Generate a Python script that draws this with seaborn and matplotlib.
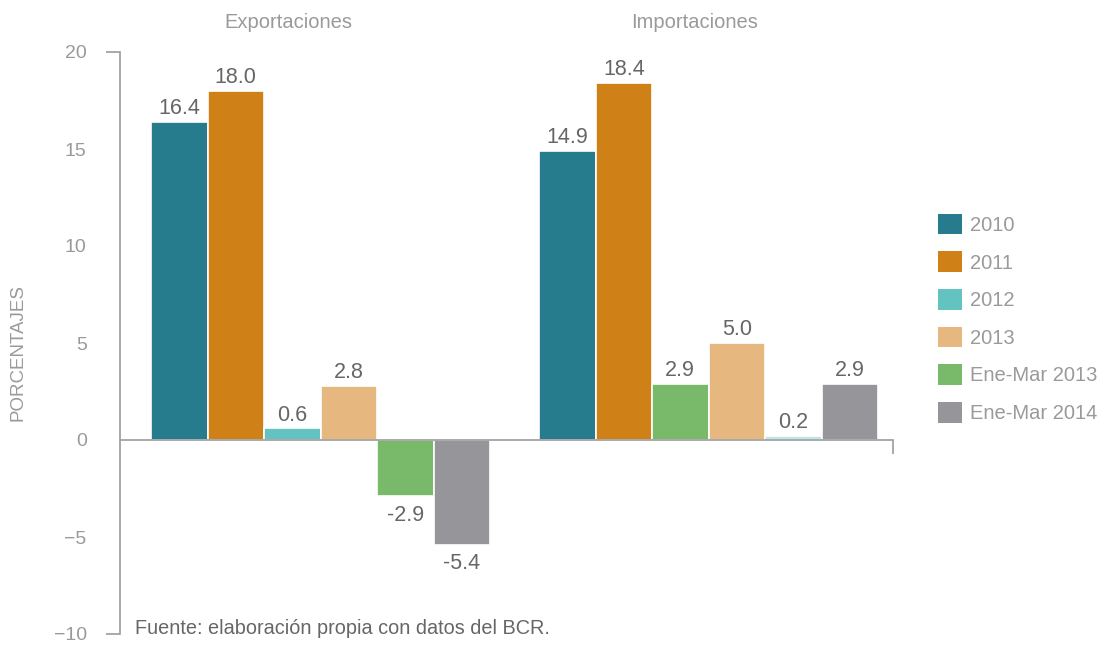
import matplotlib
matplotlib.use("Agg")
import matplotlib.pyplot as plt
from matplotlib import font_manager
from matplotlib.patches import Patch
from matplotlib.transforms import blended_transform_factory, offset_copy
import numpy as np
import pandas as pd
import seaborn as sns

# ---- data -------------------------------------------------------------
categorias = ["Exportaciones", "Importaciones"]
series = ["2010", "2011", "2012", "2013", "Ene-Mar 2013", "Ene-Mar 2014"]
exportaciones = [16.4, 18.0, 0.6, 2.8, -2.9, -5.4]
importaciones = [14.9, 18.4, 2.9, 5.0, 0.2, 2.9]
y_ticks = [-10, -5, 0, 5, 10, 15, 20]
fuente = "Fuente: elaboración propia con datos del BCR."
titulo_eje_y = "PORCENTAJES"

# ---- style ------------------------------------------------------------
paleta = ["#267b8d", "#cf8117", "#63c3c1", "#e6b880", "#78b96a", "#96969a"]
# fill of each bar inside the Importaciones group, slot by slot
colores_importaciones = ["#267b8d", "#cf8117", "#78b96a", "#e6b880", "#bfe6e4", "#96969a"]
gris_eje = "#a3a3a3"
gris_texto = "#9a9a9a"
gris_valor = "#666666"

sns.set_theme(style="white")
installed = {f.name for f in font_manager.fontManager.ttflist}
base_font = "Liberation Sans" if "Liberation Sans" in installed else "DejaVu Sans"
narrow_font = "Liberation Sans Narrow" if "Liberation Sans Narrow" in installed else base_font
plt.rcParams["font.family"] = [base_font, "DejaVu Sans"]

df = pd.DataFrame({
    "grupo": np.repeat(categorias, len(series)),
    "serie": series * len(categorias),
    "valor": exportaciones + importaciones,
})

fig = plt.figure(figsize=(11, 6.45), dpi=100)
ax = fig.add_axes([120 / 1100, 11 / 645, 773 / 1100, 582 / 645])

sns.barplot(data=df, x="grupo", y="valor", hue="serie", order=categorias,
            hue_order=series, palette=paleta, saturation=1, width=0.874, gap=0,
            edgecolor="white", linewidth=1.2, legend=False, ax=ax, errorbar=None)

# recolour the bars of the second group
for i, cont in enumerate(ax.containers):
    cont.patches[1].set_facecolor(colores_importaciones[i])

# value labels: tight above positive bars, a little more room under negative ones
for cont in ax.containers:
    anns = ax.bar_label(cont, fmt="%.1f", padding=2, fontsize=15.5, color=gris_valor)
    for ann, v in zip(anns, cont.datavalues):
        if v < 0:
            ann.xyann = (0, -6)

ax.set_ylim(-10, 20)
ax.set_xlim(-0.517, 1.4755)

# y axis: bracket-like spine, labels set away from it
ax.set_yticks(y_ticks)
ax.set_yticklabels([str(v).replace("-", "\u2212") for v in y_ticks])
ax.set_yticks([-10, 20], minor=True)
ax.yaxis.remove_overlapping_locs = False
ax.tick_params(axis="y", which="major", length=0, pad=24, labelsize=14,
               labelcolor=gris_texto, left=True)
ax.tick_params(axis="y", which="minor", length=10, width=1.3, color=gris_eje,
               left=True, direction="out")

# x axis: zero line with a tick at its right end, group names on top
ax.spines["bottom"].set_position(("data", 0))
ax.set_xticks([ax.get_xlim()[1]])
ax.tick_params(axis="x", which="major", length=10, width=1.3, color=gris_eje,
               bottom=True, labelbottom=False, direction="out")
ax.set_xlabel("")

for s in ["top", "right"]:
    ax.spines[s].set_visible(False)
for s in ["left", "bottom"]:
    ax.spines[s].set_color(gris_eje)
    ax.spines[s].set_linewidth(1.3)

trans = blended_transform_factory(ax.transData, ax.transAxes)
for x, nombre, dx in zip(range(len(categorias)), categorias, [-32, -14]):
    t = offset_copy(trans, fig=fig, x=dx, y=30, units="dots")
    ax.text(x, 1.0, nombre, transform=t, ha="center", va="center",
            fontsize=14.5, color=gris_texto)

ax.set_ylabel(titulo_eje_y, fontsize=13.5, color=gris_texto, family=narrow_font,
              va="center", ha="center")
ax.yaxis.set_label_coords(-0.132, 0.484)

handles = [Patch(facecolor=c, edgecolor="none") for c in paleta]
ax.legend(handles, series, loc="upper left", bbox_to_anchor=(1.058, 0.722),
          frameon=False, fontsize=14.5, labelcolor=gris_texto, handlelength=1.2,
          handleheight=1.2, handletextpad=0.4, labelspacing=0.82,
          borderpad=0, borderaxespad=0)

fig.text(135 / 1100, 1 - 634 / 645, fuente, fontsize=14.3, color=gris_valor,
         ha="left", va="baseline")

fig.savefig("out.png", dpi=100)
